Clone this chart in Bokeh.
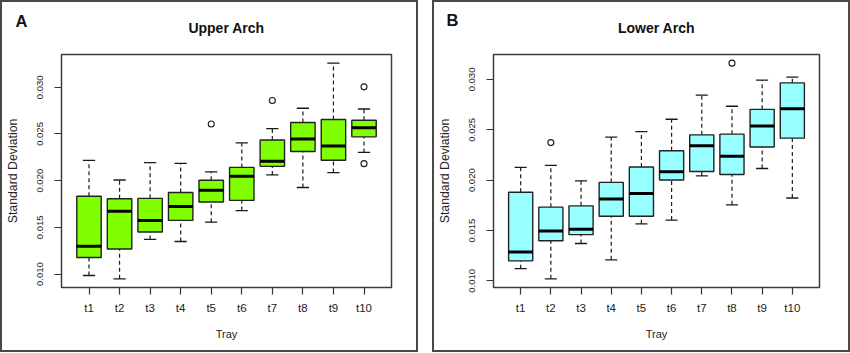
from bokeh.plotting import figure
from bokeh.layouts import row
from bokeh.models import FixedTicker, PrintfTickFormatter, Range1d, Title
from bokeh.embed import file_html
from bokeh.resources import INLINE

trays = ["t1", "t2", "t3", "t4", "t5", "t6", "t7", "t8", "t9", "t10"]

# Upper arch
upper_lo = [0.00985, 0.00949, 0.01371, 0.01349, 0.01556, 0.01680, 0.02062, 0.01927, 0.02087, 0.02302]
upper_q1 = [0.01178, 0.01269, 0.01451, 0.01575, 0.01771, 0.01789, 0.02153, 0.02313, 0.02218, 0.02469]
upper_med = [0.01298, 0.01673, 0.01575, 0.01724, 0.01898, 0.02047, 0.02207, 0.02447, 0.02371, 0.02567]
upper_q3 = [0.01833, 0.01807, 0.01811, 0.01873, 0.02004, 0.02142, 0.02436, 0.02622, 0.02655, 0.02647]
upper_hi = [0.02218, 0.02007, 0.02193, 0.02185, 0.02095, 0.02404, 0.02556, 0.02775, 0.03258, 0.02767]
upper_out_tray = ["t5", "t7", "t10", "t10"]
upper_out_val = [0.02607, 0.02858, 0.03004, 0.02182]

# Lower arch
lower_lo = [0.01121, 0.01020, 0.01371, 0.01209, 0.01567, 0.01604, 0.02042, 0.01755, 0.02116, 0.01823]
lower_q1 = [0.01199, 0.01398, 0.01459, 0.01641, 0.01641, 0.02002, 0.02086, 0.02056, 0.02329, 0.02417]
lower_med = [0.01287, 0.01496, 0.01513, 0.01813, 0.01867, 0.02083, 0.02342, 0.02238, 0.02538, 0.02710]
lower_q3 = [0.01880, 0.01732, 0.01745, 0.01978, 0.02130, 0.02292, 0.02450, 0.02457, 0.02703, 0.02966]
lower_hi = [0.02126, 0.02147, 0.01992, 0.02427, 0.02481, 0.02605, 0.02845, 0.02734, 0.02993, 0.03024]
lower_out_tray = ["t2", "t8"]
lower_out_val = [0.02373, 0.03162]

y_ticks = [0.010, 0.015, 0.020, 0.025, 0.030]

FONT = "Liberation Sans"
INK = "#1a1a1a"
W, H = 414, 348          # canvas size inside a 2px border
FH = 230                 # plot frame height


def panel(letter, title, lo, q1, med, q3, hi, out_tray, out_val, fill, bt, bl, br):
    xs = [i + 1 for i in range(len(trays))]
    allv = lo + hi + out_val
    vmin, vmax = min(allv), max(allv)
    ext = (vmax - vmin) * 0.04
    p = figure(width=W, height=H, output_backend="svg", toolbar_location=None,
               x_range=Range1d(0.1, len(trays) + 0.9), y_range=Range1d(vmin - ext, vmax + ext),
               min_border_left=bl, min_border_right=br,
               min_border_top=bt, min_border_bottom=H - bt - FH)
    p.styles = {"border": "2px solid #4a4a4a", "box-sizing": "content-box"}
    p.grid.visible = False
    p.outline_line_color = "#3c3c3c"
    p.outline_line_width = 1.5
    p.background_fill_color = "white"
    p.border_fill_color = "white"

    # axes
    p.xaxis.ticker = FixedTicker(ticks=xs)
    p.xaxis.major_label_overrides = {x: t for x, t in zip(xs, trays)}
    p.yaxis.ticker = FixedTicker(ticks=y_ticks)
    p.yaxis.formatter = PrintfTickFormatter(format="%.3f")
    p.yaxis.major_label_orientation = "vertical"
    for ax in (p.xaxis, p.yaxis):
        ax.axis_line_color = None
        ax.major_tick_in = 0
        ax.major_tick_out = 7
        ax.minor_tick_line_color = None
        ax.major_tick_line_color = "#333333"
        ax.major_tick_line_width = 1.2
        ax.major_label_text_font = FONT
        ax.major_label_text_color = "#222222"
        ax.axis_label_text_font = FONT
        ax.axis_label_text_font_style = "normal"
        ax.axis_label_text_color = "#222222"
    p.xaxis.major_label_text_font_size = "11.5px"
    p.yaxis.major_label_text_font_size = "9.5px"
    p.xaxis.axis_label = "Tray"
    p.yaxis.axis_label = "Standard Deviation"
    p.xaxis.axis_label_text_font_size = "11px"
    p.yaxis.axis_label_text_font_size = "12.3px"
    p.xaxis.major_label_standoff = 7
    p.xaxis.axis_label_standoff = 11
    p.yaxis.major_label_standoff = 11
    p.yaxis.axis_label_standoff = 15

    half = 0.4
    cap = 0.2
    # whiskers
    p.segment(x0=xs, y0=q3, x1=xs, y1=hi, line_color=INK, line_width=1.2, line_dash="4 3")
    p.segment(x0=xs, y0=lo, x1=xs, y1=q1, line_color=INK, line_width=1.2, line_dash="4 3")
    # caps
    p.segment(x0=[x - cap for x in xs], y0=hi, x1=[x + cap for x in xs], y1=hi, line_color=INK, line_width=1.3)
    p.segment(x0=[x - cap for x in xs], y0=lo, x1=[x + cap for x in xs], y1=lo, line_color=INK, line_width=1.3)
    # boxes
    p.vbar(x=xs, width=2 * half, top=q3, bottom=q1, fill_color=fill, line_color="#222222", line_width=1.4)
    # medians
    p.segment(x0=[x - half for x in xs], y0=med, x1=[x + half for x in xs], y1=med, line_color="black", line_width=3)
    # outliers
    ox = [trays.index(t) + 1 for t in out_tray]
    p.scatter(x=ox, y=out_val, marker="circle", size=6, fill_color=None, line_color=INK, line_width=1.1)

    # chart title: inner "above" panel, top-aligned
    p.add_layout(Title(text=title, align="center", vertical_align="top", standoff=bt - 18,
                       text_font=FONT, text_font_size="14px", text_font_style="bold",
                       text_color="#111111"), "above")
    # panel letter: the plot's own title (outermost), pulled down next to the chart title
    try:
        p.title = Title(text=letter, align="left", offset=10 - bl, vertical_align="bottom", standoff=-52,
                        text_font=FONT, text_font_size="16.5px", text_font_style="bold",
                        text_color="#111111")
    except Exception:
        p.title = Title(text=letter, align="left", offset=10 - bl,
                        text_font=FONT, text_font_size="16.5px", text_font_style="bold",
                        text_color="#111111")
    return p


p1 = panel("A", "Upper Arch", upper_lo, upper_q1, upper_med, upper_q3, upper_hi,
           upper_out_tray, upper_out_val, "#7FFF00", 51, 56, 29)
p2 = panel("B", "Lower Arch", lower_lo, lower_q1, lower_med, lower_q3, lower_hi,
           lower_out_tray, lower_out_val, "#97FFFF", 52, 57, 33)

layout = row(p1, p2, spacing=14)
open("out.html", "w").write(file_html(layout, INLINE))
